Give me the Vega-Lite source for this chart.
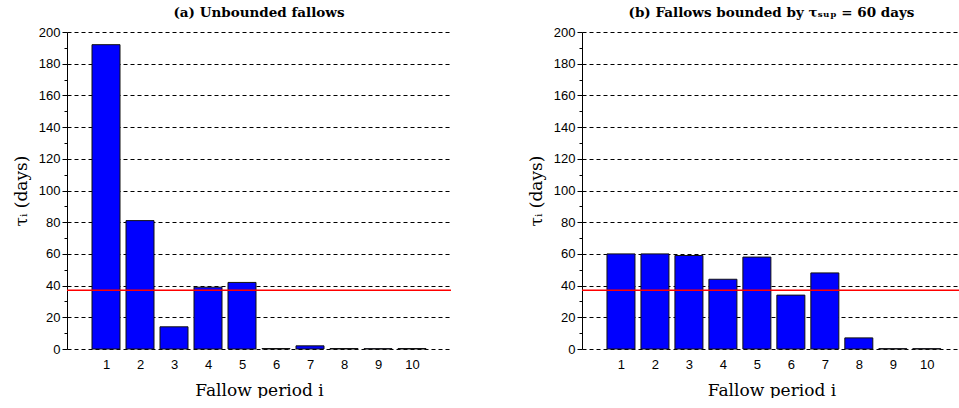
{
  "$schema": "https://vega.github.io/schema/vega-lite/v6.json",
  "background": "white",
  "padding": {"left": 12, "top": 5, "right": 0, "bottom": 0},
  "spacing": 75,
  "datasets": {
    "a": [
      {"period": 1, "tau": 192}, {"period": 2, "tau": 81}, {"period": 3, "tau": 14},
      {"period": 4, "tau": 39}, {"period": 5, "tau": 42}, {"period": 6, "tau": 0.3},
      {"period": 7, "tau": 2}, {"period": 8, "tau": 0.3}, {"period": 9, "tau": 0.2},
      {"period": 10, "tau": 0.3}
    ],
    "b": [
      {"period": 1, "tau": 60}, {"period": 2, "tau": 60}, {"period": 3, "tau": 59},
      {"period": 4, "tau": 44}, {"period": 5, "tau": 58}, {"period": 6, "tau": 34},
      {"period": 7, "tau": 48}, {"period": 8, "tau": 7}, {"period": 9, "tau": 0.2},
      {"period": 10, "tau": 0.2}
    ],
    "ref": [{"level": 37}]
  },
  "config": {
    "view": {"stroke": null},
    "title": {"font": "DejaVu Serif", "fontSize": 13.5, "fontWeight": "bold", "color": "black", "offset": 7},
    "axis": {
      "labelFont": "Liberation Sans", "labelFontSize": 13, "labelColor": "black",
      "titleFont": "DejaVu Serif", "titleFontSize": 17, "titleFontWeight": "normal", "titleColor": "black"
    }
  },
  "hconcat": [
    {
      "width": 384, "height": 317,
      "title": "(a) Unbounded fallows",
      "layer": [
        {
          "data": {"name": "a"},
          "mark": {"type": "bar", "width": 28, "color": "#0000ff", "stroke": "#111111", "strokeWidth": 1},
          "encoding": {
            "x": {"field": "period", "type": "quantitative", "scale": {"domain": [0, 11], "nice": false},
              "axis": {"values": [1,2,3,4,5,6,7,8,9,10], "tickCount": 20, "format": "d", "domain": false, "ticks": false, "grid": false, "labelPadding": 9, "title": "Fallow period i", "titlePadding": 11}},
            "y": {"field": "tau", "type": "quantitative", "scale": {"domain": [0, 200], "nice": false},
              "axis": {
                "values": [0,10,20,30,40,50,60,70,80,90,100,110,120,130,140,150,160,170,180,190,200],
                "tickCount": 40, "format": "d",
                "labelExpr": "datum.value % 20 === 0 ? datum.label : ''",
                "labelOverlap": false,
                "grid": true, "gridColor": "black", "gridDash": [4, 3], "gridWidth": 1,
                "gridOpacity": {"condition": {"test": "datum.value % 20 === 0", "value": 1}, "value": 0},
                "tickSize": {"condition": {"test": "datum.value % 20 === 0", "value": 5}, "value": 3},
                "tickColor": "black", "domainColor": "black", "domainWidth": 1,
                "title": "τᵢ (days)", "titlePadding": 8
              }}
          }
        },
        {
          "data": {"name": "ref"},
          "mark": {"type": "rule", "color": "#ff0000", "strokeWidth": 1.5},
          "encoding": {"y": {"field": "level", "type": "quantitative"}}
        }
      ]
    },
    {
      "width": 379, "height": 317,
      "title": "(b) Fallows bounded by τₛᵤₚ =  60  days",
      "layer": [
        {
          "data": {"name": "b"},
          "mark": {"type": "bar", "width": 28, "color": "#0000ff", "stroke": "#111111", "strokeWidth": 1},
          "encoding": {
            "x": {"field": "period", "type": "quantitative", "scale": {"domain": [0, 10.86], "nice": false},
              "axis": {"values": [1,2,3,4,5,6,7,8,9,10], "tickCount": 20, "format": "d", "domain": false, "ticks": false, "grid": false, "labelPadding": 9, "title": "Fallow period i", "titlePadding": 11}},
            "y": {"field": "tau", "type": "quantitative", "scale": {"domain": [0, 200], "nice": false},
              "axis": {
                "values": [0,10,20,30,40,50,60,70,80,90,100,110,120,130,140,150,160,170,180,190,200],
                "tickCount": 40, "format": "d",
                "labelExpr": "datum.value % 20 === 0 ? datum.label : ''",
                "labelOverlap": false,
                "grid": true, "gridColor": "black", "gridDash": [4, 3], "gridWidth": 1,
                "gridOpacity": {"condition": {"test": "datum.value % 20 === 0", "value": 1}, "value": 0},
                "tickSize": {"condition": {"test": "datum.value % 20 === 0", "value": 5}, "value": 3},
                "tickColor": "black", "domainColor": "black", "domainWidth": 1,
                "title": "τᵢ (days)", "titlePadding": 8
              }}
          }
        },
        {
          "data": {"name": "ref"},
          "mark": {"type": "rule", "color": "#ff0000", "strokeWidth": 1.5},
          "encoding": {"y": {"field": "level", "type": "quantitative"}}
        }
      ]
    }
  ]
}
